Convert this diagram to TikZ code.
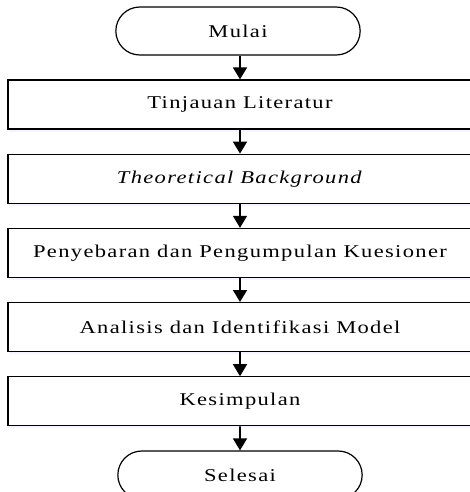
\documentclass[tikz,border=0pt]{standalone}
\usepackage{fontspec}
\setmainfont{Liberation Serif}[LetterSpace=7.5,FakeStretch=1.25]
\usetikzlibrary{positioning}
\usetikzlibrary{shapes.misc}
\usetikzlibrary{shadows}
\usetikzlibrary{arrows.meta}
\tikzstyle{terminal}=[
  draw,
  rounded rectangle,
  line width=1.2pt,
  minimum width=251pt,
  minimum height=48pt,
  font=\fontsize{18}{20}\selectfont
]
\tikzstyle{process}=[
  draw,
  fill=white,
  line width=1.2pt,
  minimum width=464pt,
  minimum height=49pt,
  drop shadow={shadow xshift=1pt, shadow yshift=-2.5pt, fill=blue!8},
  font=\fontsize{18}{20}\selectfont
]
\tikzstyle{flow}=[
  -{Triangle[length=12pt,width=14pt]},
  line width=1.6pt
]

\begin{document}
\begin{tikzpicture}[node distance=24pt]
  \useasboundingbox (0pt,0pt) rectangle (470pt,-492pt);

  \node[terminal] (mulai) at (238pt,-31pt) {Mulai};
  \node[process] (tinjauan) at (240pt,-104.5pt) {Tinjauan Literatur};
  \node[process, below=of tinjauan] (theory)    {\textit{Theoretical Background}};
  \node[process, below=of theory]   (kuesioner) {Penyebaran dan Pengumpulan Kuesioner};
  \node[process, below=of kuesioner] (analisis) {Analisis dan Identifikasi Model};
  \node[process, below=of analisis] (simpulan)  {Kesimpulan};
  \node[terminal, below=of simpulan] (selesai)  {Selesai};

  \draw[flow] (mulai.south -| tinjauan.north) -- (tinjauan);
  \draw[flow] (tinjauan) -- (theory);
  \draw[flow] (theory) -- (kuesioner);
  \draw[flow] (kuesioner) -- (analisis);
  \draw[flow] (analisis) -- (simpulan);
  \draw[flow] (simpulan) -- (selesai);
\end{tikzpicture}
\end{document}
